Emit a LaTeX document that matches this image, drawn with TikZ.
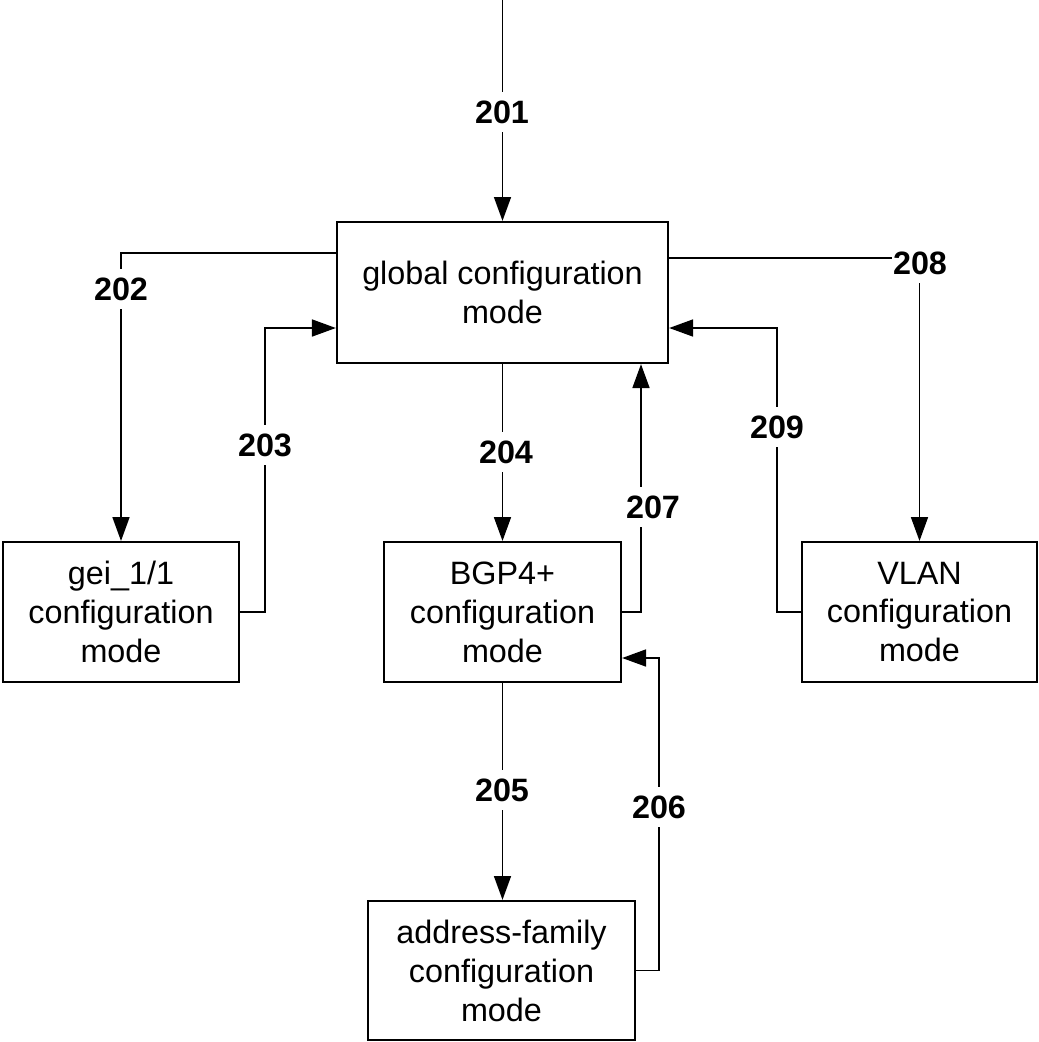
\documentclass[tikz,border=0pt]{standalone}
\usepackage{fontspec}
\setmainfont{Liberation Sans}
\usetikzlibrary{arrows.meta}

\begin{document}
\begin{tikzpicture}[x=0.025cm, y=-0.025cm,
        modebox/.style={draw, line width=1.4pt, align=center, inner sep=0pt,
            font=\fontsize{23pt}{27.7pt}\selectfont},
        flow/.style={line width=1.4pt, -{Triangle[length=17pt,width=12pt]}},
        num/.style={fill=white, inner xsep=1pt, inner ysep=6pt,
            font=\fontsize{23pt}{27.7pt}\selectfont\bfseries}]
        \useasboundingbox (0,0) rectangle (1039,1042);

        % Marking the mode boxes
        \node [modebox, minimum width=8.28cm, minimum height=3.53cm] (global) at (502.5,292.5) {global configuration\\mode};%
        \node [modebox, minimum width=5.9cm, minimum height=3.5cm] (gei) at (121,612) {gei\_1/1\\configuration\\mode};%
        \node [modebox, minimum width=5.93cm, minimum height=3.5cm] (bgp) at (502.5,612) {BGP4+\\configuration\\mode};%
        \node [modebox, minimum width=5.88cm, minimum height=3.5cm] (vlan) at (919.5,612) {VLAN\\configuration\\mode};%
        \node [modebox, minimum width=6.68cm, minimum height=3.48cm] (af) at (501.5,970.5) {address-family\\configuration\\mode};%

        % Drawing the transitions
        \coordinate (entry) at (502.5,0);%
        \draw [flow] (entry) -- (global.north);%
        \draw [flow] (global.west |- 0,253) -| (gei.north);%
        \draw [flow] (gei.east) -| (265,328) -- (global.west |- 0,328);%
        \draw [flow] (global.south) -- (bgp.north);%
        \draw [flow] (bgp.south) -- (bgp.south |- af.north);%
        \draw [flow] (af.east) -| (659,658) -- (bgp.east |- 0,658);%
        \draw [flow] (bgp.east) -| (global.south -| 641,0);%
        \draw [flow] (global.east |- 0,258) -| (vlan.north);%
        \draw [flow] (vlan.west) -| (777,328) -- (global.east |- 0,328);%

        % Marking the step numbers
        \node [num] (n201) at (502,112) {201};%
        \node [num] (n202) at (121,289) {202};%
        \node [num] (n203) at (265,445) {203};%
        \node [num] (n204) at (506,452) {204};%
        \node [num] (n205) at (502,790) {205};%
        \node [num] (n206) at (659,807) {206};%
        \node [num] (n207) at (653,507) {207};%
        \node [num] (n208) at (920,263) {208};%
        \node [num] (n209) at (777,427) {209};%
    \end{tikzpicture}
\end{document}
